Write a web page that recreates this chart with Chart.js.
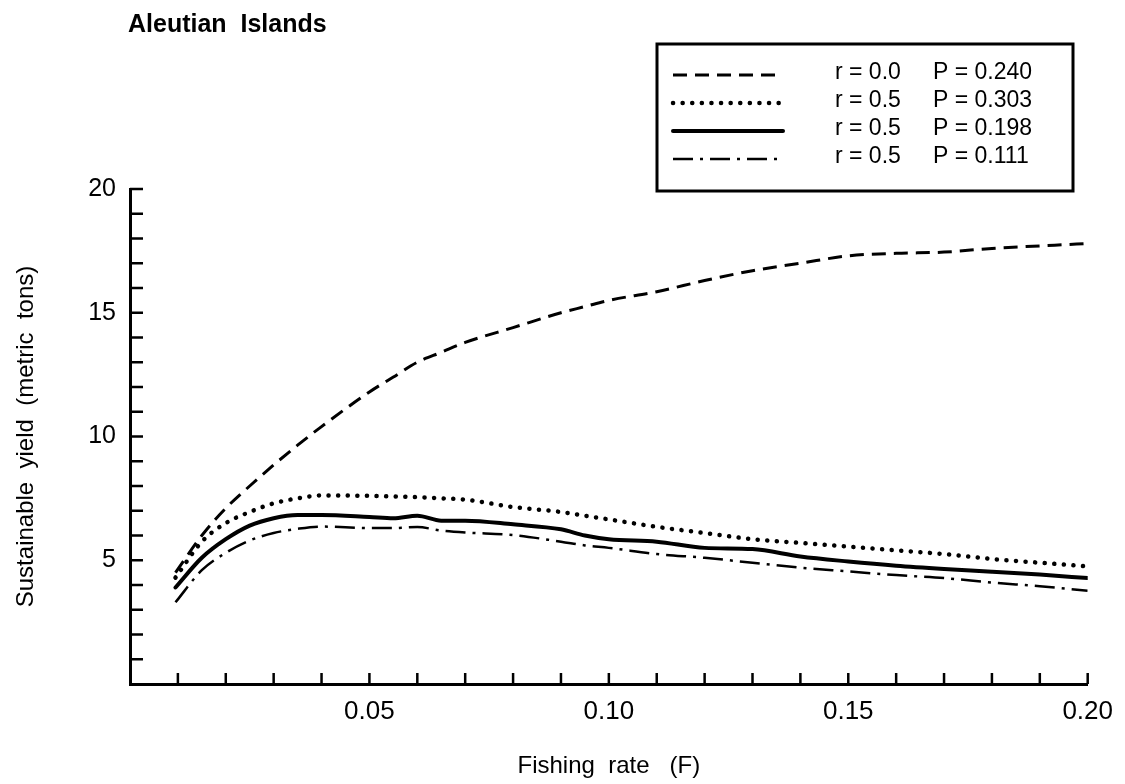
<!DOCTYPE html>
<html>
<head>
<meta charset="utf-8">
<script src="https://cdn.jsdelivr.net/npm/chart.js@4.4.0/dist/chart.umd.min.js"></script>
<style>
  html, body { margin: 0; padding: 0; background: #fff; }
  #wrap { width: 1125px; height: 784px; }
</style>
</head>
<body>
<div id="wrap"><canvas id="c" width="1125" height="784"></canvas></div>
<script>
// ---- data ----
const chartTitle = 'Aleutian  Islands';
const xTitle = 'Fishing  rate   (F)';
const yTitle = 'Sustainable  yield  (metric  tons)';
const rLabels = ['r = 0.0', 'r = 0.5', 'r = 0.5', 'r = 0.5'];
const pLabels = ['P = 0.240', 'P = 0.303', 'P = 0.198', 'P = 0.111'];

const fishingRate = [0.0095, 0.015, 0.02, 0.025, 0.03, 0.035, 0.04, 0.05, 0.055, 0.06, 0.065, 0.07, 0.08, 0.09, 0.095, 0.10, 0.11, 0.12, 0.13, 0.14, 0.15, 0.16, 0.17, 0.18, 0.19, 0.20];
const yieldR00P240 = [4.5, 6.0, 7.1, 8.0, 8.85, 9.65, 10.4, 11.8, 12.4, 13.0, 13.4, 13.8, 14.4, 15.0, 15.25, 15.5, 15.85, 16.3, 16.7, 17.0, 17.3, 17.4, 17.45, 17.6, 17.7, 17.8];
const yieldR05P303 = [4.3, 5.75, 6.5, 6.95, 7.3, 7.5, 7.62, 7.6, 7.58, 7.55, 7.5, 7.45, 7.15, 6.95, 6.8, 6.65, 6.35, 6.1, 5.85, 5.7, 5.55, 5.4, 5.25, 5.05, 4.9, 4.75];
const yieldR05P198 = [3.9, 5.1, 5.85, 6.4, 6.7, 6.83, 6.83, 6.75, 6.7, 6.8, 6.6, 6.6, 6.45, 6.25, 6.0, 5.85, 5.75, 5.5, 5.45, 5.15, 4.95, 4.78, 4.65, 4.54, 4.42, 4.28];
const yieldR05P111 = [3.3, 4.6, 5.3, 5.8, 6.1, 6.27, 6.36, 6.3, 6.3, 6.34, 6.2, 6.12, 6.02, 5.75, 5.6, 5.5, 5.25, 5.1, 4.9, 4.7, 4.55, 4.4, 4.28, 4.1, 3.95, 3.77];

const xMin = 0, xMax = 0.20, xStep = 0.01;
const yMin = 0, yMax = 20, yStep = 1;

function pts(ys) { return fishingRate.map((x, i) => ({ x: x, y: ys[i] })); }

const FONT = "'Liberation Sans', Arial, sans-serif";

const datasets = [
  { label: rLabels[0] + ' ' + pLabels[0], data: pts(yieldR00P240), borderColor: '#000', borderWidth: 3, borderDash: [14, 8], borderCapStyle: 'butt' },
  { label: rLabels[1] + ' ' + pLabels[1], data: pts(yieldR05P303), borderColor: '#000', borderWidth: 4.5, borderDash: [0.1, 9.5], borderCapStyle: 'round' },
  { label: rLabels[2] + ' ' + pLabels[2], data: pts(yieldR05P198), borderColor: '#000', borderWidth: 4, borderDash: [], borderCapStyle: 'round' },
  { label: rLabels[3] + ' ' + pLabels[3], data: pts(yieldR05P111), borderColor: '#000', borderWidth: 2.5, borderDash: [20, 7, 3, 7], borderCapStyle: 'butt' }
].map(d => Object.assign(d, { showLine: true, pointRadius: 0, fill: false, tension: 0.35, cubicInterpolationMode: 'monotone' }));

const decorPlugin = {
  id: 'decor',
  afterDraw(chart) {
    const ctx = chart.ctx;
    const xs = chart.scales.x, ys = chart.scales.y;
    const area = chart.chartArea;
    ctx.save();
    // inward tick marks
    ctx.strokeStyle = '#000';
    ctx.lineWidth = 2.5;
    ctx.beginPath();
    xs.ticks.forEach(t => {
      if (t.value <= xMin + 1e-9) return;
      const px = xs.getPixelForValue(t.value);
      ctx.moveTo(px, area.bottom);
      ctx.lineTo(px, area.bottom - 11);
    });
    ys.ticks.forEach(t => {
      if (t.value <= yMin + 1e-9) return;
      const py = ys.getPixelForValue(t.value);
      ctx.moveTo(area.left, py);
      ctx.lineTo(area.left + 13, py);
    });
    ctx.stroke();

    // title
    ctx.fillStyle = '#000';
    ctx.font = "bold 25px " + FONT;
    ctx.textAlign = 'left';
    ctx.textBaseline = 'middle';
    ctx.fillText(chartTitle, 128, 25);

    // legend box
    const bx = 657, by = 44, bw = 416, bh = 147;
    ctx.lineWidth = 3;
    ctx.strokeRect(bx, by, bw, bh);
    const rows = [73, 101, 129, 157];
    chart.data.datasets.forEach((d, i) => {
      ctx.save();
      ctx.strokeStyle = d.borderColor;
      ctx.lineWidth = d.borderWidth;
      ctx.lineCap = d.borderCapStyle;
      ctx.setLineDash(d.borderDash);
      ctx.beginPath();
      ctx.moveTo(673, rows[i] + 2);
      ctx.lineTo(783, rows[i] + 2);
      ctx.stroke();
      ctx.restore();
      ctx.font = "23px " + FONT;
      ctx.textBaseline = 'middle';
      ctx.fillText(rLabels[i], 835, rows[i]);
      ctx.fillText(pLabels[i], 933, rows[i]);
    });
    ctx.restore();
  }
};

new Chart(document.getElementById('c'), {
  type: 'scatter',
  data: { datasets: datasets },
  options: {
    responsive: false,
    animation: false,
    layout: { padding: { left: 0, right: 28, top: 189, bottom: 0 } },
    plugins: { legend: { display: false }, tooltip: { enabled: false }, title: { display: false } },
    scales: {
      x: {
        type: 'linear', min: xMin, max: xMax,
        afterFit(s) { s.height = 100; },
        grid: { display: true, drawOnChartArea: false, drawTicks: false },
        border: { display: true, color: '#000', width: 3 },
        ticks: {
          stepSize: xStep, padding: 12, color: '#000', maxRotation: 0, autoSkip: false,
          font: { family: FONT, size: 26 },
          callback(v) { const k = Math.round(v * 100); return (k > 0 && k % 5 === 0) ? (k / 100).toFixed(2) : ''; }
        },
        title: { display: true, text: xTitle, color: '#000', font: { family: FONT, size: 24 }, padding: { top: 0, bottom: 3 } }
      },
      y: {
        type: 'linear', min: yMin, max: yMax,
        afterFit(s) { s.width = 130; },
        grid: { display: true, drawOnChartArea: false, drawTicks: false },
        border: { display: true, color: '#000', width: 3 },
        ticks: {
          stepSize: yStep, padding: 14, color: '#000', autoSkip: false,
          font: { family: FONT, size: 25 },
          callback(v) { const k = Math.round(v); return (k > 0 && k % 5 === 0) ? String(k) : ''; }
        },
        title: { display: true, text: yTitle, color: '#000', font: { family: FONT, size: 24 }, padding: { top: 12, bottom: 0 } }
      }
    }
  },
  plugins: [decorPlugin]
});
</script>
</body>
</html>
